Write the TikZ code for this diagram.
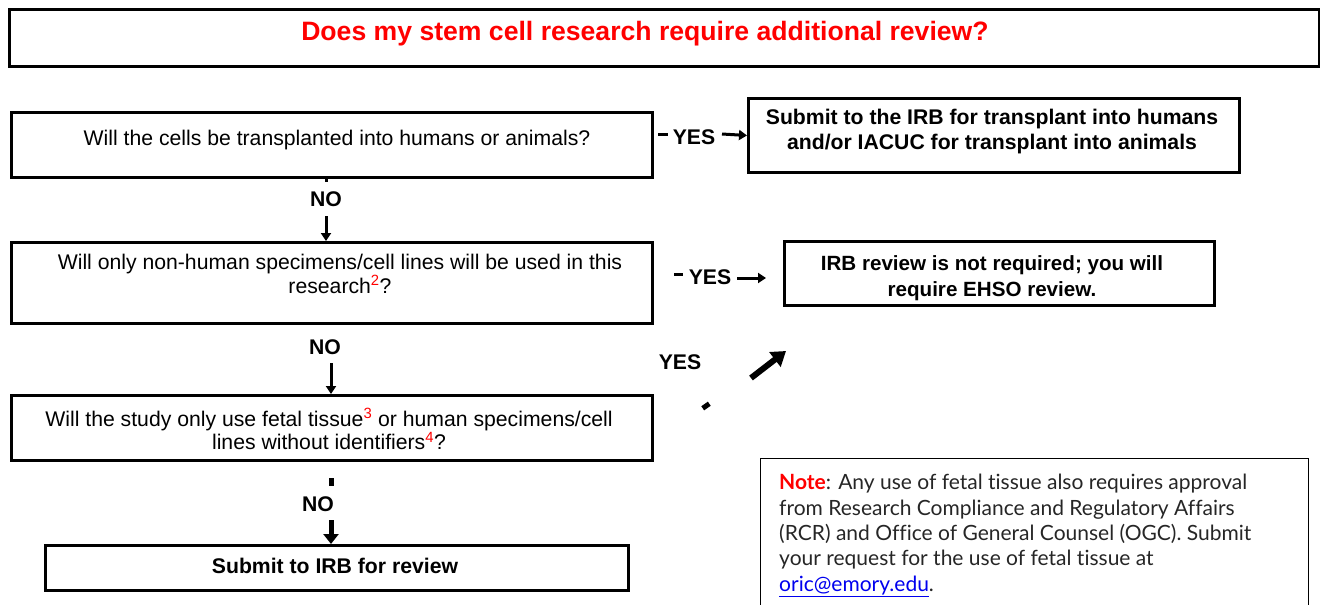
\documentclass[tikz,border=0pt]{standalone}
\usepackage{fontspec}
\setmainfont{Liberation Sans}
\newfontfamily\notefont{Lato}[Ligatures=NoCommon]
\usetikzlibrary{arrows.meta,shapes.geometric}
\definecolor{titlered}{RGB}{255,0,0}
\definecolor{linkblue}{RGB}{0,0,238}
\tikzset{
  box/.style={draw=black,line width=3pt,rectangle,inner sep=0pt,anchor=north west},
  qtext/.style={font=\fontsize{21.2}{23.5}\selectfont,align=center,inner sep=0pt},
  btext/.style={font=\fontsize{21.2}{24.5}\selectfont\bfseries,align=center,inner sep=0pt},
  lbl/.style={font=\fontsize{21.2}{22}\selectfont\bfseries,inner sep=0pt},
  arr/.style={line width=3pt,-{Triangle[length=8pt,width=10pt]}},
  bigarr/.style={line width=5pt,-{Triangle[length=10pt,width=15pt]}},
}
\newcommand{\redsup}[1]{\textsuperscript{\textcolor{titlered}{#1}}}
\begin{document}
\begin{tikzpicture}[x=1pt,y=-1pt]
\useasboundingbox (0,0) rectangle (1320,605);
% title
\node[box,minimum width=1310pt,minimum height=57pt] (title) at (7.5,7.5) {};
\node[font=\fontsize{26.6}{28}\selectfont\bfseries,text=titlered,inner sep=0pt] (titletext) at (645,34) {Does my stem cell research require additional review?};
% question boxes
\node[box,minimum width=641pt,minimum height=65pt] (q1) at (10,111) {};
\node[qtext] (q1t) at (337,140) {Will the cells be transplanted into humans or animals?};
\node[box,minimum width=641pt,minimum height=81pt] (q2) at (10,241) {};
\node[qtext] (q2t) at (340,274) {Will only non-human specimens/cell lines will be used in this\\research\redsup{2}?};
\node[box,minimum width=641pt,minimum height=65pt] (q3) at (10,394) {};
\node[qtext] (q3t) at (329,429) {Will the study only use fetal tissue\redsup{3} or human specimens/cell\\lines without identifiers\redsup{4}?};
\node[box,minimum width=583pt,minimum height=45pt] (fin) at (44,544) {};
\node[btext] (fint) at (335,566) {Submit to IRB for review};
% right boxes
\node[box,minimum width=491pt,minimum height=74pt] (r1) at (747,97) {};
\node[btext] (r1t) at (992,131.5) {Submit to the IRB for transplant into humans\\and/or IACUC for transplant into animals};
\node[box,minimum width=430pt,minimum height=64pt] (r2) at (783,240) {};
\node[btext,font=\fontsize{20.6}{25.5}\selectfont\bfseries] (r2t) at (992,278) {IRB review is not required; you will\\require EHSO review.};
% YES 1
\coordinate (y1a) at (658,134);
\coordinate (y1b) at (668,134);
\draw[line width=3pt] (y1a) -- (y1b);
\node[lbl] (yes1) at (694,137) {YES};
\coordinate (y1c) at (722,134);
\draw[arr] (y1c) -- (r1.west);
% YES 2
\coordinate (y2a) at (674,274);
\coordinate (y2b) at (683,274);
\draw[line width=3pt] (y2a) -- (y2b);
\node[lbl] (yes2) at (710,277) {YES};
\coordinate (y2c) at (737,278);
\coordinate (y2d) at (766,278);
\draw[arr] (y2c) -- (y2d);
% diagonal YES
\node[lbl] (yes3) at (680,362) {YES};
\node[fill=black,rectangle,minimum width=8pt,minimum height=5pt,inner sep=0pt,rotate=35] (dot) at (706,406) {};
\coordinate (d1) at (751,378);
\coordinate (d2) at (786,351);
\draw[line width=6pt,-{Triangle[length=14pt,width=18pt]}] (d1) -- (d2);
% NO 1
\coordinate (n1a) at (326,182);
\draw[line width=3pt] (q1.south -| n1a) -- (n1a);
\node[lbl] (no1) at (326,199) {NO};
\coordinate (n1b) at (326,216);
\draw[arr] (n1b) -- (q2.north -| n1b);
% NO 2
\node[lbl] (no2) at (325,347) {NO};
\coordinate (n2a) at (331,363);
\draw[arr] (n2a) -- (q3.north -| n2a);
% NO 3
\coordinate (n3a) at (331,478);
\coordinate (n3b) at (331,486);
\draw[line width=5pt] (n3a) -- (n3b);
\node[lbl] (no3) at (318,504) {NO};
\coordinate (n3c) at (331,520);
\draw[bigarr] (n3c) -- (fin.north -| n3c);
% note
\node[draw=black,line width=1pt,rectangle,anchor=north west,minimum width=548pt,minimum height=150pt] (note) at (760,458) {};
\node[font=\notefont\fontsize{21}{25.4}\selectfont,align=left,anchor=north west,inner sep=0pt,text=black!85] (notet) at (779,474)
{\textcolor{titlered}{\bfseries Note}: Any use of fetal tissue also requires approval\\
from Research Compliance and Regulatory Affairs\\
(RCR) and Office of General Counsel (OGC). Submit\\
your request for the use of fetal tissue at\\
\textcolor{linkblue}{\underline{oric@emory.edu}}.};
\end{tikzpicture}
\end{document}
